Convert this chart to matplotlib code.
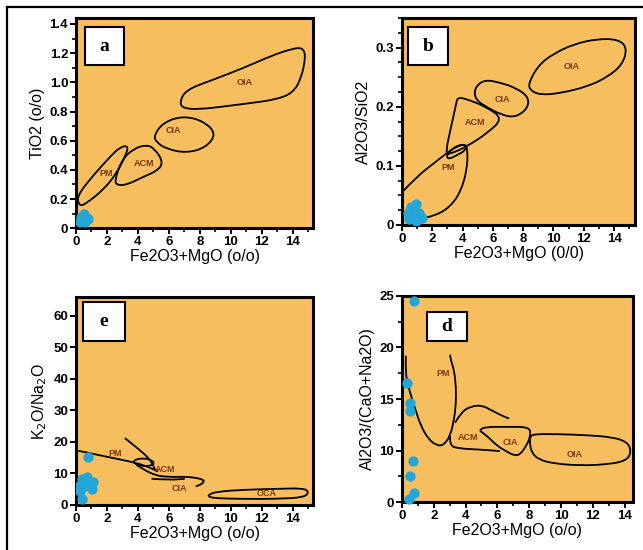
import numpy as np
import matplotlib
matplotlib.use("Agg")
import matplotlib.pyplot as plt
from matplotlib.lines import Line2D
from matplotlib.patches import Rectangle, PathPatch
from matplotlib.path import Path
from matplotlib.ticker import MultipleLocator, FixedLocator

plt.rcParams['font.family'] = ['Liberation Sans', 'DejaVu Sans']

# ---- panel a : TiO2 vs Fe2O3+MgO ----
a_oia = [(6.70, 0.871), (7.13, 0.950), (8.85, 1.018), (10.78, 1.097), (12.71, 1.187),
         (14.0, 1.232), (14.64, 1.237), (14.82, 1.176), (14.54, 1.029), (14.0, 0.928),
         (12.93, 0.883), (11.42, 0.860), (9.71, 0.837), (7.99, 0.815), (6.87, 0.822)]
a_cia = [(5.02, 0.634), (5.63, 0.725), (6.91, 0.770), (8.20, 0.736), (9.06, 0.650),
         (8.42, 0.555), (7.13, 0.515), (5.84, 0.544), (5.20, 0.589)]
a_acm = [(2.51, 0.330), (2.94, 0.465), (3.69, 0.544), (4.55, 0.573), (5.09, 0.544),
         (5.63, 0.454), (5.30, 0.397), (4.34, 0.352), (3.26, 0.296), (2.62, 0.296)]
a_pm = [(0.04, 0.217), (1.12, 0.363), (2.19, 0.488), (2.83, 0.555), (3.37, 0.567),
        (3.26, 0.51), (2.62, 0.375), (1.76, 0.262), (0.69, 0.172), (0.25, 0.15)]
a_px = [0.3, 0.5, 0.7, 0.4, 0.6, 0.8, 0.25, 0.55]
a_py = [0.08, 0.10, 0.07, 0.05, 0.04, 0.06, 0.04, 0.07]
a_text = [("OIA", 10.9, 1.0), ("CIA", 6.27, 0.668), ("ACM", 4.38, 0.442), ("PM", 1.98, 0.375)]

# ---- panel b : Al2O3/SiO2 vs Fe2O3+MgO ----
b_oia = [(8.37, 0.241), (9.03, 0.271), (10.02, 0.290), (11.34, 0.306), (12.89, 0.315),
         (14.32, 0.314), (14.87, 0.299), (14.54, 0.271), (13.55, 0.250), (12.22, 0.234),
         (10.46, 0.223), (9.14, 0.220), (8.44, 0.228)]
b_cia = [(5.40, 0.246), (6.50, 0.241), (7.60, 0.231), (8.37, 0.216), (8.30, 0.197),
         (7.49, 0.182), (6.61, 0.186), (5.62, 0.199), (4.85, 0.212), (4.78, 0.231)]
b_acm = [(3.68, 0.216), (4.30, 0.213), (5.62, 0.199), (6.67, 0.180), (5.62, 0.155),
         (4.30, 0.133), (3.19, 0.120), (2.86, 0.121), (3.30, 0.172), (3.59, 0.206)]
b_pm = [(0.0, 0.055), (0.99, 0.082), (2.09, 0.104), (2.93, 0.121), (3.63, 0.133),
        (4.19, 0.137), (4.34, 0.127), (4.30, 0.093), (3.85, 0.054), (3.08, 0.028),
        (2.09, 0.015), (1.21, 0.011)]
b_loop = [(2.93, 0.117), (3.30, 0.129), (3.85, 0.136), (4.25, 0.135), (4.19, 0.126),
          (3.63, 0.118), (3.08, 0.111)]
b_px = [0.4, 0.6, 0.9, 0.7, 1.1, 1.3, 0.5, 0.9]
b_py = [0.020, 0.030, 0.035, 0.015, 0.020, 0.012, 0.010, 0.006]
b_text = [("OIA", 11.2, 0.269), ("CIA", 6.6, 0.213), ("ACM", 4.85, 0.173), ("PM", 3.08, 0.098)]

# ---- panel e : K2O/Na2O vs Fe2O3+MgO ----
e_pm = [(0.15, 17.2), (1.76, 15.5), (3.69, 13.6), (4.55, 12.3), (5.3, 10.6)]
e_s = [(3.16, 21.2), (3.91, 18.3), (4.77, 14.6), (5.09, 11.4)]
e_acm = [(3.69, 13.7), (3.9, 14.5), (4.34, 14.8), (4.8, 14.4), (5.09, 13.2),
         (4.8, 12.4), (4.34, 12.3), (3.9, 12.8)]
e_cia = [(3.91, 12.7), (4.88, 9.5), (6.06, 8.8), (7.13, 9.0), (8.10, 8.3),
         (8.31, 7.4), (7.99, 6.3), (7.73, 5.9)]
e_cia2 = [(4.88, 8.3), (6.06, 7.9), (7.02, 8.3)]
e_oca = [(8.53, 3.2), (9.06, 4.2), (10.78, 4.8), (12.93, 5.1), (14.65, 5.3), (15.03, 4.2),
         (14.76, 2.4), (12.93, 1.9), (10.78, 1.9), (9.06, 2.1), (8.6, 2.5)]
e_px = [0.79, 0.37, 0.58, 0.26, 0.37, 1.12, 1.01, 0.69, 0.21]
e_py = [15.1, 8.3, 6.1, 4.5, 1.9, 7.2, 5.1, 8.7, 6.1]
e_text = [("PM", 2.51, 16.2), ("ACM", 5.73, 11.2), ("CIA", 6.70, 5.3), ("OCA", 12.3, 3.5)]

# ---- panel d : Al2O3/(CaO+Na2O) vs Fe2O3+MgO ----
d_pm = [(0.25, 19.2), (0.22, 17.6), (0.4, 16.2), (0.84, 14.0), (1.19, 12.4), (1.67, 11.1),
        (2.19, 10.5), (2.61, 10.5), (3.03, 11.4), (3.28, 13.0), (3.40, 14.6), (3.40, 16.2),
        (3.28, 17.8), (3.07, 18.8), (3.03, 19.3)]
d_arc = [(3.34, 12.7), (3.76, 13.8), (4.38, 14.3), (5.01, 14.4), (5.64, 13.9),
         (6.26, 13.4), (6.74, 13.1)]
d_acm = [(3.03, 11.4), (2.99, 10.5), (3.55, 10.2), (4.91, 10.1), (6.16, 9.9)]
d_cia = [(4.91, 12.0), (5.22, 12.3), (6.58, 12.3), (8.04, 12.3), (8.08, 11.4), (7.83, 10.5),
         (7.45, 9.3), (7.10, 9.0), (6.58, 9.8), (5.95, 10.5), (5.37, 11.4), (4.91, 11.9)]
d_oia = [(8.04, 11.3), (8.25, 11.6), (9.71, 11.6), (11.59, 11.5), (13.26, 11.3),
         (14.20, 10.8), (14.41, 9.7), (14.09, 8.0), (12.84, 7.3), (11.17, 7.1),
         (9.50, 7.5), (8.56, 8.3), (8.14, 9.7), (8.04, 10.7)]
d_px = [0.77, 0.35, 0.52, 0.48, 0.69, 0.48, 0.77, 0.42]
d_py = [24.5, 16.6, 14.6, 13.8, 7.9, 5.0, 1.8, 0.7]
d_text = [("PM", 2.57, 17.5), ("ACM", 4.18, 11.3), ("CIA", 6.79, 10.8), ("OIA", 10.86, 9.3)]

BG = '#F6BE5E'
BLUE = '#22A6D8'
TXT = '#7E3618'


def curve(ax, pts, closed=True):
    # smooth outline: quadratic bezier through midpoints, drawn by matplotlib
    p = [ax.transScale.transform(q) for q in pts]
    mid = lambda u, v: ((u[0] + v[0]) / 2, (u[1] + v[1]) / 2)
    n = len(p)
    if closed:
        verts = [mid(p[-1], p[0])]
        codes = [Path.MOVETO]
        for i in range(n):
            verts += [p[i], mid(p[i], p[(i + 1) % n])]
            codes += [Path.CURVE3, Path.CURVE3]
    else:
        verts = [p[0]]
        codes = [Path.MOVETO]
        for i in range(1, n - 1):
            verts += [p[i], mid(p[i], p[i + 1])]
            codes += [Path.CURVE3, Path.CURVE3]
        verts.append(p[-1])
        codes.append(Path.LINETO)
    path = Path(verts, codes)
    patch = PathPatch(path, facecolor='none', edgecolor='black', lw=1.3,
                      transform=ax.transLimits + ax.transAxes, zorder=3)
    ax.add_patch(patch)


def style(ax, ylab, xlab, letter, box):
    ax.set_facecolor(BG)
    for s in ax.spines.values():
        s.set_linewidth(2.2)
    ax.xaxis.set_major_locator(MultipleLocator(2))
    ax.xaxis.set_minor_locator(MultipleLocator(1))
    ax.tick_params(which='major', direction='out', length=4, width=1.4, labelsize=9.5, pad=1.5)
    ax.tick_params(which='minor', direction='out', length=3, width=1.2)
    for lab in ax.get_xticklabels() + ax.get_yticklabels():
        lab.set_fontweight('bold')
    ax.set_xlabel(xlab, fontsize=11.5, labelpad=1)
    ax.set_ylabel(ylab, fontsize=11.5, labelpad=3)
    r = Rectangle((box[0], box[1]), box[2], box[3], transform=ax.transAxes,
                  facecolor='white', edgecolor='black', lw=1.5, zorder=5)
    ax.add_patch(r)
    ax.text(box[0] + box[2] / 2, box[1] + box[3] / 2, letter, transform=ax.transAxes,
            ha='center', va='center', fontsize=14, fontweight='bold',
            family='Liberation Serif', zorder=6)


def labels(ax, items):
    for t, x, y in items:
        ax.text(x, y, t, ha='center', va='center', fontsize=6.5, fontweight='bold',
                color=TXT, zorder=4)


fig = plt.figure(figsize=(6.43, 5.5), dpi=100)

# panel a
ax = fig.add_axes([0.118, 0.585, 0.369, 0.382])
ax.set_xlim(0, 15.3)
ax.set_ylim(0, 1.44)
for c in [a_oia, a_cia, a_acm, a_pm]:
    curve(ax, c)
ax.scatter(a_px, a_py, s=55, color=BLUE, zorder=4, linewidths=0)
labels(ax, a_text)
ax.yaxis.set_minor_locator(MultipleLocator(0.1))
ax.set_yticks([0, 0.2, 0.4, 0.6, 0.8, 1.0, 1.2, 1.4], ['0', '0.2', '0.4', '0.6', '0.8', '1.0', '1.2', '1.4'])
style(ax, 'TiO2 (o/o)', 'Fe2O3+MgO (o/o)', 'a', (0.038, 0.776, 0.165, 0.181))

# panel b
ax = fig.add_axes([0.625, 0.591, 0.363, 0.376])
ax.set_xlim(0, 15.4)
ax.set_ylim(0, 0.35)
for c in [b_oia, b_cia, b_acm, b_loop]:
    curve(ax, c)
curve(ax, b_pm, closed=False)
ax.scatter(b_px, b_py, s=55, color=BLUE, zorder=4, linewidths=0)
labels(ax, b_text)
ax.set_yticks([0, 0.1, 0.2, 0.3], ['0', '0.1', '0.2', '0.3'])
ax.yaxis.set_minor_locator(MultipleLocator(0.025))
style(ax, 'Al2O3/SiO2', 'Fe2O3+MgO (0/0)', 'b', (0.026, 0.773, 0.172, 0.184))

# panel e
ax = fig.add_axes([0.118, 0.082, 0.369, 0.378])
ax.set_xlim(0, 15.3)
ax.set_ylim(0, 66)
curve(ax, e_pm, closed=False)
curve(ax, e_s, closed=False)
curve(ax, e_acm)
curve(ax, e_cia, closed=False)
curve(ax, e_cia2, closed=False)
curve(ax, e_oca)
ax.scatter(e_px, e_py, s=55, color=BLUE, zorder=4, linewidths=0)
labels(ax, e_text)
ax.set_yticks([0, 10, 20, 30, 40, 50, 60])
style(ax, 'K$_2$O/Na$_2$O', 'Fe2O3+MgO (o/o)', 'e', (0.03, 0.788, 0.177, 0.188))

# panel d (vertical scale compressed below 10 as in the original)
ax = fig.add_axes([0.625, 0.087, 0.359, 0.375])
fwd = lambda y: np.where(np.asarray(y) < 10, 5 + np.asarray(y) / 2.0, y)
inv = lambda p: np.where(np.asarray(p) < 10, (np.asarray(p) - 5) * 2.0, p)
ax.set_yscale('function', functions=(fwd, inv))
ax.set_xlim(0, 14.5)
ax.set_ylim(0, 25)
curve(ax, d_pm, closed=False)
curve(ax, d_arc, closed=False)
curve(ax, d_acm, closed=False)
curve(ax, d_cia)
curve(ax, d_oia)
ax.scatter(d_px, d_py, s=55, color=BLUE, zorder=4, linewidths=0, clip_on=False)
labels(ax, d_text)
ax.yaxis.set_major_locator(FixedLocator([0, 10, 15, 20, 25]))
ax.yaxis.set_minor_locator(FixedLocator([5, 12.5, 17.5, 22.5]))
ax.set_yticklabels(['0', '10', '15', '20', '25'])
style(ax, 'Al2O3/(CaO+Na2O)', 'Fe2O3+MgO (o/o)', 'd', (0.108, 0.782, 0.173, 0.141))

# outer frame (left and top edges only)
fig.add_artist(Line2D([0.011, 0.011], [0, 0.987], transform=fig.transFigure, color='black', lw=1.6))
fig.add_artist(Line2D([0.011, 1.0], [0.987, 0.987], transform=fig.transFigure, color='black', lw=1.6))

fig.savefig('out.png', dpi=100)
